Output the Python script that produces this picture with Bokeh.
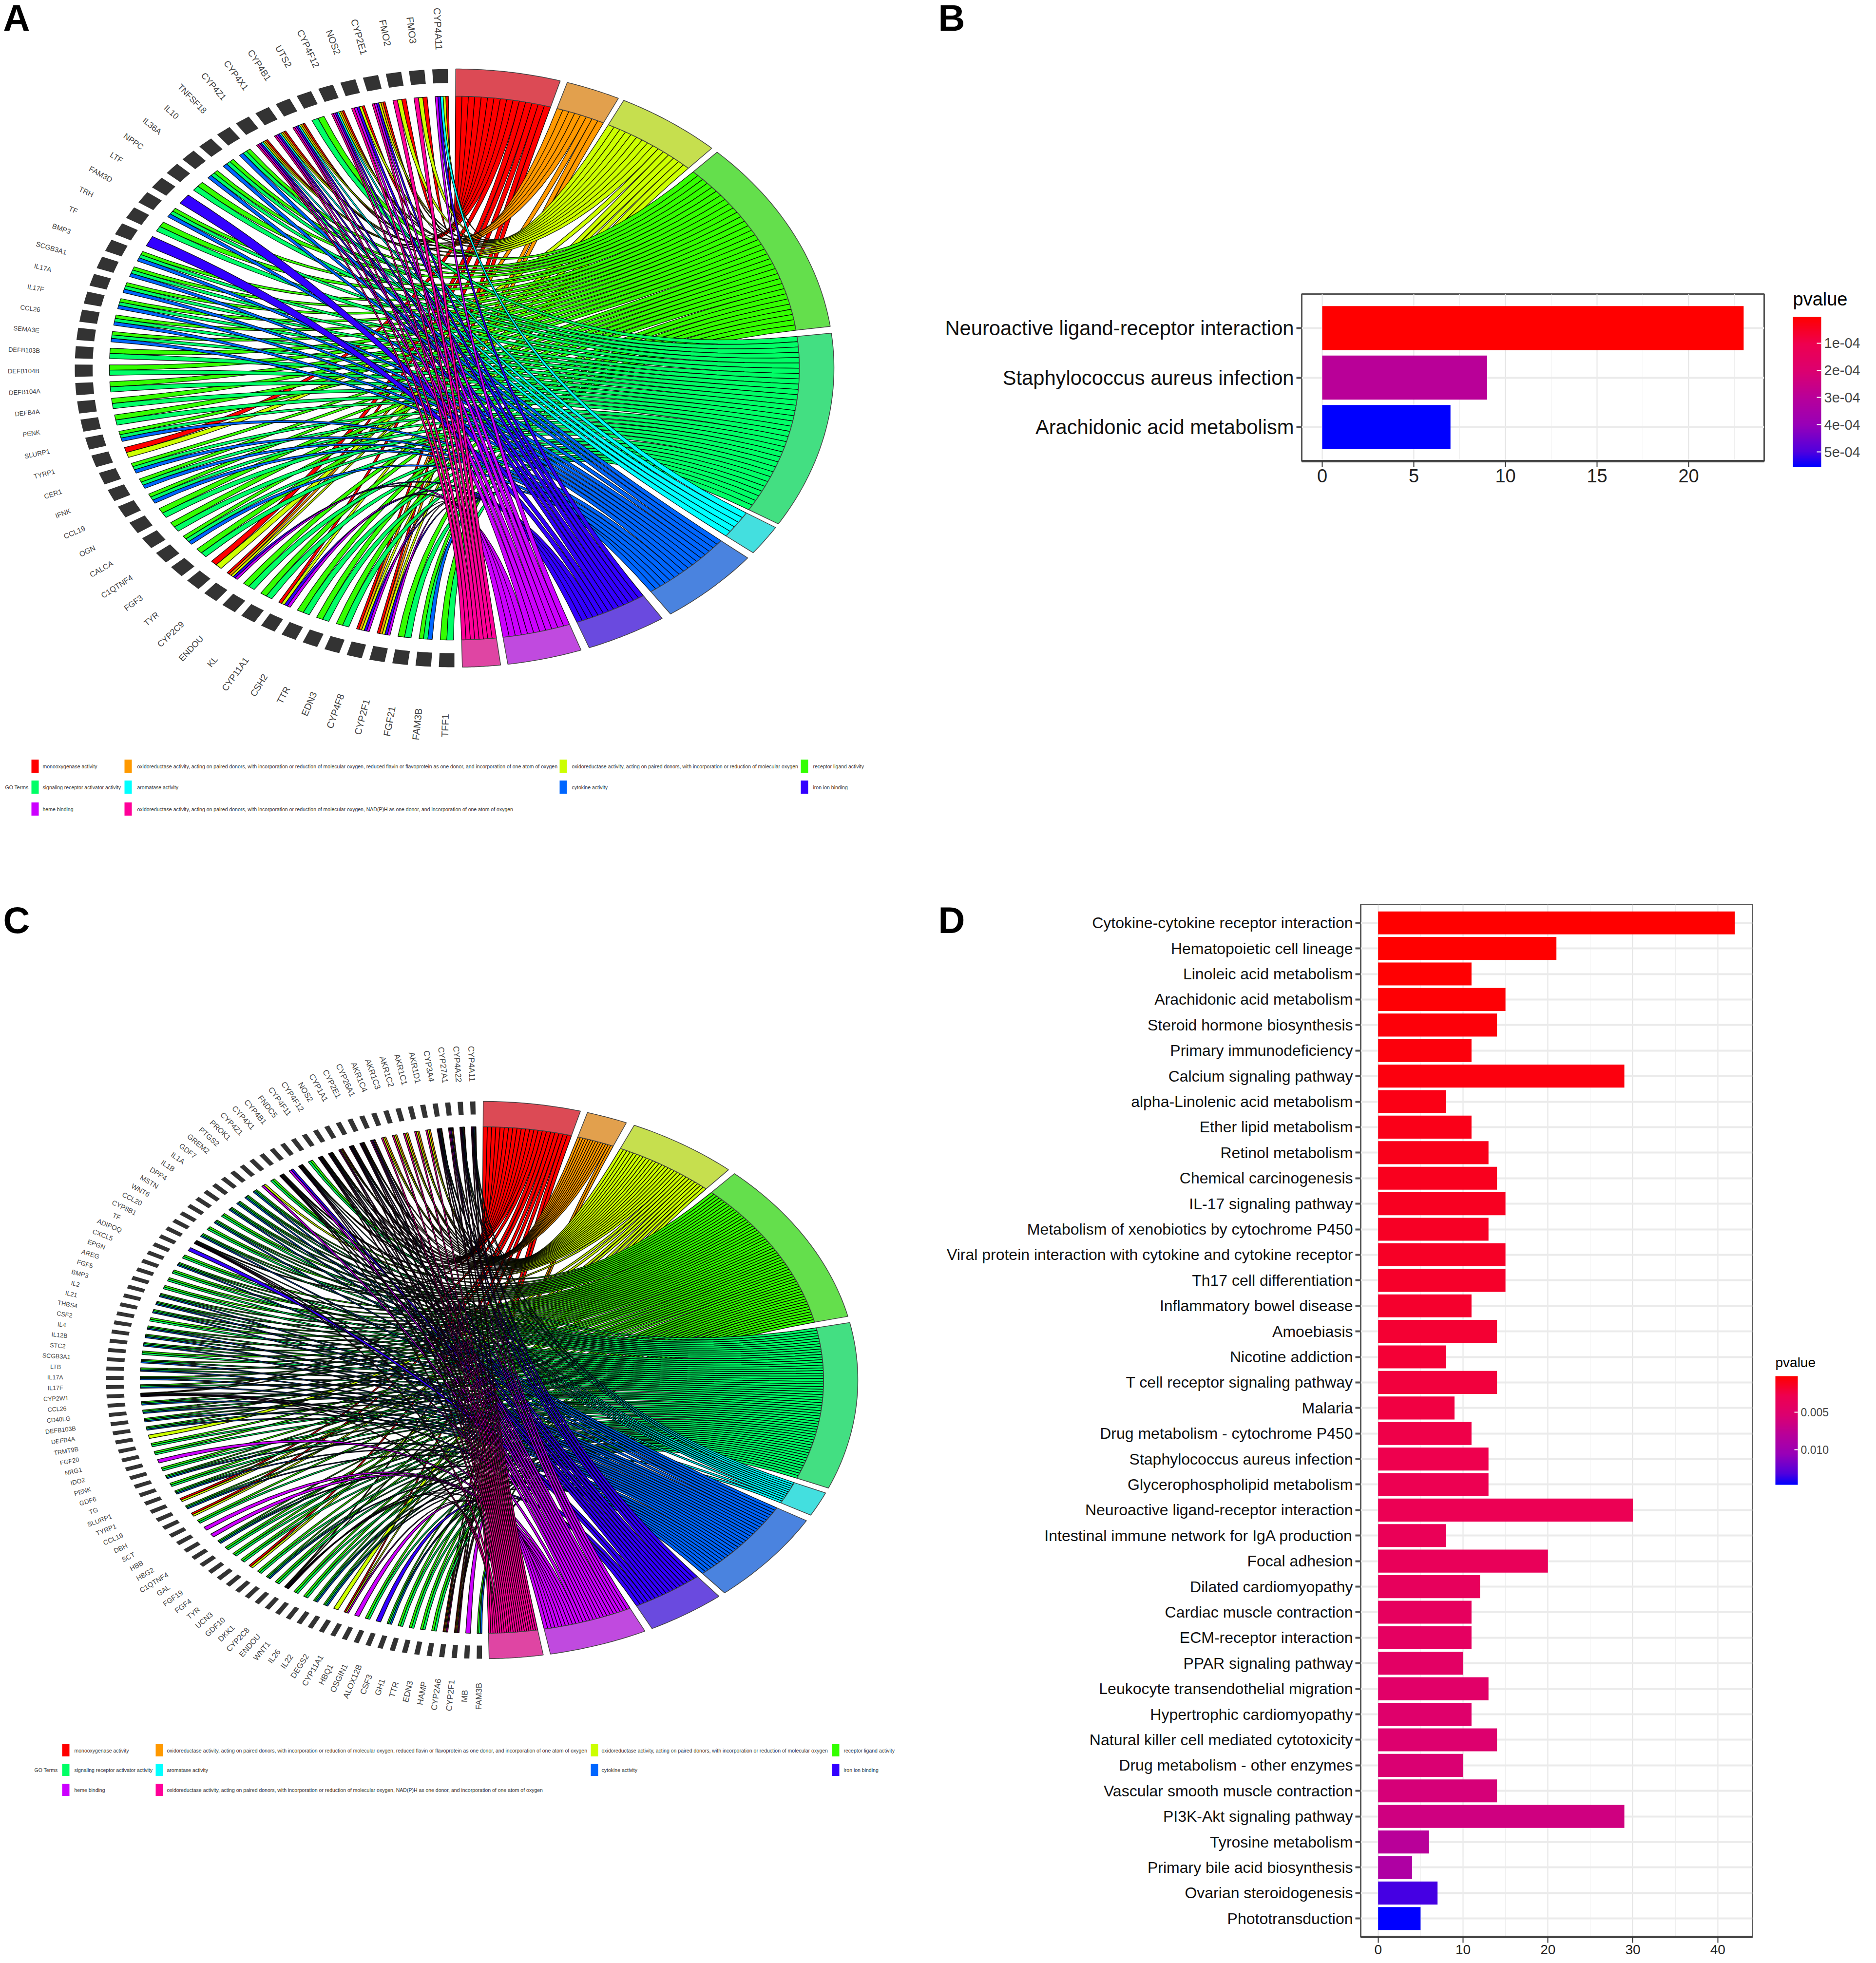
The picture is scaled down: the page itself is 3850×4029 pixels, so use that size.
import numpy as np
from bokeh.plotting import figure
from bokeh.models import Range1d, FactorRange, FixedTicker, LinearColorMapper, ColorBar
from bokeh.core.properties import value
from bokeh.embed import file_html
from bokeh.resources import INLINE

TERM_CODES = "roygscbivp"
TERM_NAMES = ["monooxygenase activity",
 "oxidoreductase activity, acting on paired donors, with incorporation or reduction of molecular oxygen, reduced flavin or flavoprotein as one donor, and incorporation of one atom of oxygen",
 "oxidoreductase activity, acting on paired donors, with incorporation or reduction of molecular oxygen",
 "receptor ligand activity", "signaling receptor activator activity", "aromatase activity",
 "cytokine activity", "iron ion binding", "heme binding",
 "oxidoreductase activity, acting on paired donors, with incorporation or reduction of molecular oxygen, NAD(P)H as one donor, and incorporation of one atom of oxygen"]
RIBBON_COLORS = ["#FF0000","#FF9900","#CCFF00","#33FF00","#00FF66","#00FFFF","#0066FF","#3300FF","#CC00FF","#FF0099"]
RING_COLORS = ["#DC4A55","#E2A04D","#C6DF4E","#64DF4C","#43DF82","#43DFDF","#4A83DF","#6A4ADF","#C04ADF","#DF45A3"]

A_SPANS = [(0.2,16.2),(17.3,25.6),(26.5,42.7),(43.8,82.0),(83.3,121.4),(122.2,128.1),(129.4,145.3),(146.8,159.2),(160.5,171.9),(173.0,178.8)]
A_GENES = ["CYP4A11","FMO3","FMO2","CYP2E1","NOS2","CYP4F12","UTS2","CYP4B1","CYP4X1","CYP4Z1","TNFSF18","IL10","IL36A","NPPC","LTF","FAM3D","TRH","TF","BMP3","SCGB3A1","IL17A","IL17F","CCL26","SEMA3E","DEFB103B","DEFB104B","DEFB104A","DEFB4A","PENK","SLURP1","TYRP1","CER1","IFNK","CCL19","OGN","CALCA","C1QTNF4","FGF3","TYR","CYP2C9","ENDOU","KL","CYP11A1","CSH2","TTR","EDN3","CYP4F8","CYP2F1","FGF21","FAM3B","TFF1"]
A_LINKS = ["rcyiv","ryp","ryp","royivp","ryivp","roycivp","gs","roycivp","roycivp","roycivp","gsb","gsb","gsb","gs","i","gsb","gs","i","gsb","gsb","gsb","gsb","gsb","gsb","gs","gs","gs","gs","gs","gsb","ry","gsb","gsb","gsb","gs","gs","gsb","gs","ry","royiv","gs","gs","ryiv","gs","gs","gs","royiv","royiv","gs","gsb","gs"]

C_SPANS = [(0.2,15.2),(16.3,22.6),(23.9,41.0),(42.2,76.8),(78.1,112.8),(113.9,119.0),(120.3,139.8),(140.9,153.1),(154.3,169.5),(170.6,178.9)]
C_GENES = ["CYP4A11","CYP4A22","CYP27A1","CYP3A4","AKR1D1","AKR1C1","AKR1C2","AKR1C3","AKR1C4","CYP26A1","CYP2E1","CYP1A1","NOS2","CYP4F12","CYP4F11","FNDC5","CYP4B1","CYP4X1","CYP4Z1","PROK1","PTGS2","GREM2","GDF7","IL1A","IL1B","DPP4","MSTN","WNT6","CCL20","CYP8B1","TF","ADIPOQ","CXCL5","EPGN","AREG","FGF5","BMP3","IL2","IL21","THBS4","CSF2","IL4","IL12B","STC2","SCGB3A1","LTB","IL17A","IL17F","CYP2W1","CCL26","CD40LG","DEFB103B","DEFB4A","TRMT9B","FGF20","NRG1","IDO2","PENK","GDF6","TG","SLURP1","TYRP1","CCL19","DBH","SCT","HBB","HBG2","C1QTNF4","GAL","FGF19","FGF4","TYR","UCN3","GDF10","DKK1","CYP2C8","ENDOU","WNT1","IL26","IL22","DEGS2","CYP11A1","HBQ1","OSGIN1","ALOX12B","CSF3","GH1","TTR","EDN3","HAMP","CYP2A6","CYP2F1","MB","FAM3B"]
C_LINKS = ["rcyivp","rcyivp","ryivp","rcyivp","oyp","oyp","oyp","oyp","oyp","ryivp","royivp","rocivp","royvp","rocyivp","rocyivp","gs","rocyivp","iv","rocyivp","gs","yv","gsb","gsb","gsb","gsb","gs","gsb","gs","gsb","rcyivp","i","gs","gsb","gs","gs","gs","gsb","gsb","gsb","gs","gsb","gsb","gsb","gs","gsb","gsb","gsb","gsb","rcyivp","gsb","gsb","gsb","gsb","y","gs","gs","v","gs","gsb","gs","gsb","ry","gsb","ry","gs","v","v","gsb","gs","gs","gs","ry","gs","gsb","gs","rcyivp","gs","gs","gsb","gsb","y","ryv","v","gs","i","gsb","gs","gs","gs","gs","royvp","royvp","v","gsb"]

B_PATHWAYS = ["Neuroactive ligand-receptor interaction","Staphylococcus aureus infection","Arachidonic acid metabolism"]
B_COUNTS = [23,9,7]
B_PVALUES = [4e-6,3.0e-4,5.55e-4]
B_XTICKS = [0,5,10,15,20]

D_PATHWAYS = ["Cytokine-cytokine receptor interaction","Hematopoietic cell lineage","Linoleic acid metabolism","Arachidonic acid metabolism","Steroid hormone biosynthesis","Primary immunodeficiency","Calcium signaling pathway","alpha-Linolenic acid metabolism","Ether lipid metabolism","Retinol metabolism","Chemical carcinogenesis","IL-17 signaling pathway","Metabolism of xenobiotics by cytochrome P450","Viral protein interaction with cytokine and cytokine receptor","Th17 cell differentiation","Inflammatory bowel disease","Amoebiasis","Nicotine addiction","T cell receptor signaling pathway","Malaria","Drug metabolism - cytochrome P450","Staphylococcus aureus infection","Glycerophospholipid metabolism","Neuroactive ligand-receptor interaction","Intestinal immune network for IgA production","Focal adhesion","Dilated cardiomyopathy","Cardiac muscle contraction","ECM-receptor interaction","PPAR signaling pathway","Leukocyte transendothelial migration","Hypertrophic cardiomyopathy","Natural killer cell mediated cytotoxicity","Drug metabolism - other enzymes","Vascular smooth muscle contraction","PI3K-Akt signaling pathway","Tyrosine metabolism","Primary bile acid biosynthesis","Ovarian steroidogenesis","Phototransduction"]
D_COUNTS = [42,21,11,15,14,11,29,8,11,13,14,15,13,15,15,11,14,8,14,9,11,13,13,30,8,20,12,11,11,10,13,11,14,10,14,29,6,4,7,5]
D_PVALUES = [.0002,.0002,.0003,.0004,.0005,.0006,.0007,.0009,.0010,.0011,.0012,.0013,.0014,.0015,.0016,.0017,.0019,.0020,.0022,.0024,.0026,.0028,.0030,.0032,.0034,.0036,.0038,.0040,.0042,.0045,.0048,.0050,.0053,.0056,.0059,.0064,.0080,.0088,.0135,.0147]
D_XTICKS = [0,10,20,30,40]

STOPS = ["#FF0000","#EE0050","#DC0070","#B8009A","#9800B8","#5000DE","#0000FF"]
STOP_POS = [0,.18,.36,.54,.72,.9,1]
def build_palette(n=256):
    rgb = np.array([[int(c[i:i+2],16) for i in (1,3,5)] for c in STOPS],float)
    t = np.linspace(0,1,n)
    out = np.stack([np.interp(t,STOP_POS,rgb[:,k]) for k in range(3)],1).round().astype(int)
    return ["#%02X%02X%02X"%tuple(v) for v in out]
PAL = build_palette()
SANS = "Liberation Sans"

def place(ox,oy):
    return {"position":"absolute","left":"%dpx"%ox,"top":"%dpx"%oy}

def chord(ox,oy,W,H,cx,cy,rx,ry,spans,genes,links,g_start,g_end,g_w,lw,fs_h,fs_v,rlab,leg,rib_w):
    p = figure(width=W,height=H,output_backend="svg",toolbar_location=None,styles=place(ox,oy),
               x_range=Range1d((ox-cx)/rx,(ox+W-cx)/rx),y_range=Range1d((cy-oy-H)/ry,(cy-oy)/ry),
               min_border=0,outline_line_color=None)
    p.axis.visible=False; p.grid.visible=False
    X=lambda x:(np.asarray(x,float)-cx)/rx
    Y=lambda y:(cy-np.asarray(y,float))/ry
    pol=lambda r,deg:(r*np.sin(np.radians(deg)),r*np.cos(np.radians(deg)))
    R_IN=.909
    n=len(genes)
    pitch=(g_end-g_start-g_w)/(n-1)
    g0=[-(g_start+i*pitch) for i in range(n)]
    xs,ys=[],[]
    for a in g0:
        t=np.linspace(a,a-g_w,6)
        x1,y1=pol(1.0,t); x2,y2=pol(.953,t[::-1])
        xs.append(np.r_[x1,x2]); ys.append(np.r_[y1,y2])
    p.patches(xs,ys,fill_color="#333333",line_color=None)
    members=[[i for i,l in enumerate(links) if c in l] for c in TERM_CODES]
    for ti,c in enumerate(TERM_CODES):
        s,e=spans[ti]; m=members[ti]
        w=(e-s)/max(len(m),1)
        xs,ys=[],[]
        for j,gi in enumerate(m):
            codes=[k for k in TERM_CODES if k in links[gi]]
            pos=codes.index(c); gw=rib_w/len(codes)
            G0=g0[gi]-pos*gw; G1=G0-gw
            T0=s+j*w; T1=T0+w
            tt=np.linspace(0,1,26)
            def edge(Ta,Ga):
                ax,ay=pol(R_IN,Ta); bx,by=pol(R_IN,Ga)
                return (1-tt)**2*ax+tt**2*bx,(1-tt)**2*ay+tt**2*by
            e0x,e0y=edge(T0,G0); e1x,e1y=edge(T1,G1)
            xa,ya=pol(R_IN,np.linspace(T1,T0,5))
            xs.append(np.r_[e0x,e1x[::-1],xa]); ys.append(np.r_[e0y,e1y[::-1],ya])
        p.patches(xs,ys,fill_color=RIBBON_COLORS[ti],line_color="black",line_width=lw,line_alpha=.9)
    xs,ys=[],[]
    for s,e in spans:
        t=np.linspace(s,e,30)
        x1,y1=pol(1.0,t); x2,y2=pol(R_IN,t[::-1])
        xs.append(np.r_[x1,x2]); ys.append(np.r_[y1,y2])
    p.patches(xs,ys,fill_color=RING_COLORS,line_color="#444444",line_width=1.5)
    th=np.array(g0)-g_w/2
    rl=rlab(np.radians(th))
    lx=rl*np.sin(np.radians(th)); ly=rl*np.cos(np.radians(th))
    ang=np.arctan2(-ry*np.cos(np.radians(th)),-rx*np.sin(np.radians(th)))
    sz=np.hypot(fs_h*np.sin(np.radians(th)),fs_v*np.cos(np.radians(th)))
    p.text(x=lx,y=ly,text=genes,angle=ang,text_align="center",text_baseline="middle",
           text_font=value(SANS),text_color="#444444",text_font_size=["%.1fpx"%v for v in sz])
    rows,cols_s,cols_t,sw,h,goxy=leg
    grid=[(0,0),(0,1),(0,2),(0,3),(1,0),(1,1),(1,2),(1,3),(2,0),(2,1)]
    for ti,(r,c) in enumerate(grid):
        yc=rows[r]
        p.quad(left=X(cols_s[c]),right=X(cols_s[c]+sw),bottom=Y(yc+h/2),top=Y(yc-h/2),fill_color=RIBBON_COLORS[ti],line_color=None)
        p.text(x=[X(cols_t[c])],y=[Y(yc)],text=[TERM_NAMES[ti]],text_baseline="middle",text_font=value(SANS),text_font_size="10.5px",text_color="#333333")
    p.text(x=[X(goxy[0])],y=[Y(goxy[1])],text=["GO Terms"],text_baseline="middle",text_font=value(SANS),text_font_size="10.5px",text_color="#333333")
    return p

def caption(txt,left,yc,w,h,size,style="normal"):
    """A small transparent figure holding one free-standing text, centred on page height yc."""
    p=figure(width=w,height=h,output_backend="svg",toolbar_location=None,styles=place(left,int(yc-h/2)),
             x_range=Range1d(0,w),y_range=Range1d(0,h),min_border=0,outline_line_color=None,
             background_fill_color=None,border_fill_color=None)
    p.axis.visible=False; p.grid.visible=False
    p.text(x=[0],y=[h/2],text=[txt],text_baseline="middle",text_font=value(SANS),
           text_font_style=style,text_font_size=size,text_color="black")
    return p

def bars(ox,oy,W,H,l,r,t,b,names,vals,pv,ticks,minor,xr,fs,fs_tick,bar_h,pad,grid_w,lo,hi,cb):
    p=figure(width=W,height=H,output_backend="svg",toolbar_location=None,styles=place(ox,oy),
             x_range=Range1d(*xr),y_range=FactorRange(factors=names[::-1],range_padding=pad,range_padding_units="absolute"),
             min_border_left=l,min_border_right=r,min_border_top=t,min_border_bottom=b,
             outline_line_color="#555555",outline_line_width=3)
    p.hbar(y=names,left=0,right=vals,height=bar_h,fill_color=[PAL[int(np.clip((v-lo)/(hi-lo),0,1)*255)] for v in pv],line_color=None)
    p.xaxis.ticker=FixedTicker(ticks=ticks,minor_ticks=minor)
    p.xaxis.major_label_text_font=SANS; p.yaxis.major_label_text_font=SANS
    p.xaxis.major_label_text_font_size=fs_tick; p.yaxis.major_label_text_font_size=fs
    p.xaxis.major_label_text_color="#222222"; p.yaxis.major_label_text_color="#111111"
    p.axis.minor_tick_line_color=None
    p.xaxis.major_tick_out=12; p.xaxis.major_tick_in=0; p.xaxis.major_tick_line_color="#333333"; p.xaxis.major_tick_line_width=2
    p.yaxis.major_tick_out=11; p.yaxis.major_tick_in=0; p.yaxis.major_tick_line_color="#555555"; p.yaxis.major_tick_line_width=4
    p.yaxis.axis_line_color=None; p.xaxis.axis_line_color="#444444"; p.xaxis.axis_line_width=5
    p.yaxis.major_label_standoff=5; p.xaxis.major_label_standoff=4
    p.ygrid.grid_line_color="#EBEBEB"; p.ygrid.grid_line_width=grid_w
    p.xgrid.grid_line_color="#E4E4E4"; p.xgrid.grid_line_width=2
    p.xgrid.minor_grid_line_color="#EFEFEF"; p.xgrid.minor_grid_line_width=1
    p.xgrid.level="underlay"; p.ygrid.level="underlay"
    bar=LinearColorMapper(palette=PAL[::-1],low=hi,high=lo)
    c=ColorBar(color_mapper=bar,location=cb["loc"],width=cb["w"],height=cb["h"],orientation="vertical",
               major_label_text_font=SANS,major_label_text_font_size=cb["lfs"],label_standoff=cb["ls"],
               ticker=FixedTicker(ticks=cb["ticks"]),major_label_overrides=cb["labels"],
               major_tick_line_color="white",major_tick_line_width=2,major_tick_in=cb["w"]//6,
               bar_line_color=None,padding=0,background_fill_color=None,border_line_color=None)
    p.add_layout(c,"center")
    return p

PAGE=8
XR=1925; YB=1852
WL,WR=1917,1917
HT,HB=1844,2177

pA=chord(PAGE,PAGE,WL,HT,932,755,779,614,A_SPANS,A_GENES,A_LINKS,1.0,180.0,2.35,1.3,13,20,
         lambda t:1.135+.06*np.maximum(0,-np.cos(t))**3,
         ([1572,1615,1660],[64,255,1148,1643],[87,281,1173,1668],15,27,(10,1615)),2.2)
pC=chord(PAGE,YB,WL,HB,988.5,2832,771.5,572,C_SPANS,C_GENES,C_LINKS,1.0,180.0,.8,1.5,12.5,17,
         lambda t:1.135+0*t,
         ([3592,3632,3673],[127,319,1212,1707],[152,342,1234,1731],15,25,(70,3632)),.8)

pB=bars(XR,PAGE,WR,HT,2671-XR,3842-3620,603-PAGE,YB-946,B_PATHWAYS,B_COUNTS,B_PVALUES,B_XTICKS,[2.5,7.5,12.5,17.5,22.5],
        (-1.117,24.12),"41.7px","38px",.89,.19,4,4e-6,5.55e-4,
        dict(loc=(3679-2671,946-958),w=58,h=308,lfs="29px",ls=6,
             ticks=[1e-4,2e-4,3e-4,4e-4,5e-4],labels={1e-4:"1e-04",2e-4:"2e-04",3e-4:"3e-04",4e-4:"4e-04",5e-4:"5e-04"}))
pD=bars(XR,YB,WR,HB,2792-XR,3850-3604,4,YB+HB-3975,D_PATHWAYS,D_COUNTS,D_PVALUES,D_XTICKS,[5,15,25,35,45],
        (-2.05,44.09),"32px","28px",.9,.22,4,.0002,.0147,
        dict(loc=(3643-2792,3975-3047),w=46,h=223,lfs="23px",ls=6,
             ticks=[.005,.010],labels={.005:"0.005",.010:"0.010"}))

overlays=[caption("A",6,36,90,90,"76px","bold"),caption("B",1925,36,90,90,"76px","bold"),
          caption("C",6,1888,90,90,"76px","bold"),caption("D",1925,1888,90,90,"76px","bold"),
          caption("pvalue",3679,613,130,60,"38px"),caption("pvalue",3643,2796,100,46,"28px")]

open("out.html","w").write(file_html([pA,pB,pC,pD]+overlays,INLINE))
